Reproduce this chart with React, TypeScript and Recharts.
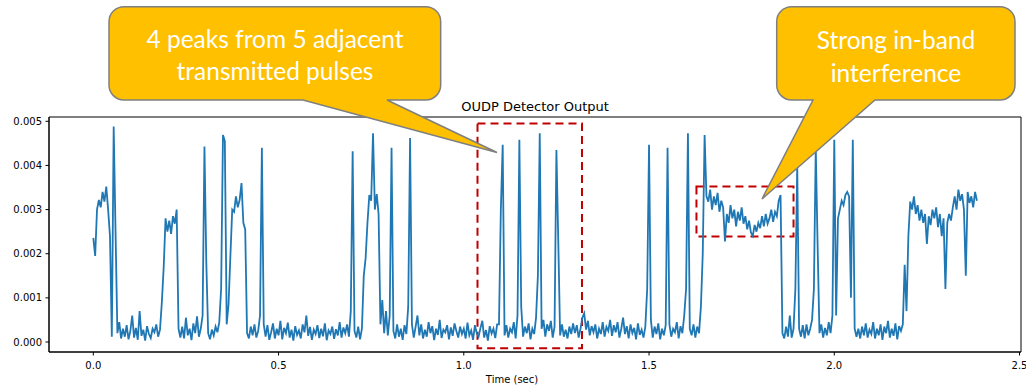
import React from "react";
import { LineChart, Line, XAxis, YAxis, ReferenceArea } from "recharts";

const SAMPLE_STEP = 0.005; // seconds between samples

// detector output in units of 1e-5, one array per half second
const SEG_00 = [
  236, 195, 300, 322, 305, 340, 318, 352, 300, 240, 12, 488, 250, 20, 45, 8, 30, 12, 38, 6,
  25, 60, 10, 32, 5, 70, 14, 28, 3, 36, 18, 9, 30, 22, 40, 12, 28, 90, 170, 280,
  250, 275, 245, 285, 268, 300, 30, 10, 35, 8, 55, 15, 30, 4, 42, 20, 58, 12, 30, 60,
  443, 180, 20, 6, 28, 15, 35, 22, 45, 120, 469, 455, 40, 85, 195, 300, 295, 330, 305, 322,
  360, 270, 255, 20, 8, 35, 15, 40, 10, 25, 60, 440, 40, 12, 38, 5, 22, 42, 8, 30,
];
const SEG_05 = [
  15, 48, 6, 32, 20, 44, 10, 28, 3, 36, 16, 26, 8, 40, 22, 60, 14, 34, 5, 28,
  18, 38, 9, 30, 13, 42, 4, 26, 18, 35, 7, 29, 15, 45, 10, 33, 20, 40, 12, 70,
  432, 25, 10, 35, 6, 30, 150, 190, 270, 333, 320, 473, 300, 335, 290, 40, 95, 20, 70, 15,
  60, 440, 25, 8, 40, 12, 30, 5, 38, 18, 80, 462, 40, 10, 35, 60, 15, 40, 8, 28,
  12, 45, 20, 36, 4, 30, 16, 50, 9, 28, 22, 38, 6, 33, 14, 42, 25, 10, 35, 18,
];
const SEG_10 = [
  30, 8, 44, 15, 26, 5, 38, 20, 12, 32, 48, 10, 27, 3, 36, 19, 30, 9, 40, 40,
  300, 447, 15, 38, 10, 30, 22, 45, 8, 60, 458, 80, 12, 35, 20, 42, 6, 30, 18, 55,
  150, 473, 30, 50, 12, 40, 25, 48, 10, 35, 435, 230, 15, 40, 12, 28, 8, 35, 18, 42,
  20, 38, 10, 30, 55, 65, 28, 48, 15, 36, 22, 40, 8, 30, 18, 45, 12, 34, 25, 50,
  14, 38, 22, 45, 10, 30, 55, 18, 36, 8, 40, 20, 32, 6, 42, 16, 28, 10, 35, 120,
];
const SEG_15 = [
  447, 50, 10, 35, 18, 42, 6, 30, 15, 38, 440, 40, 12, 30, 22, 45, 8, 36, 20, 60,
  120, 473, 30, 15, 40, 10, 35, 20, 80, 200, 469, 330, 318, 345, 300, 330, 310, 338, 295, 320,
  305, 228, 290, 270, 310, 280, 300, 262, 295, 275, 305, 268, 285, 255, 275, 248, 240, 265, 250, 270,
  258, 285, 262, 290, 268, 280, 300, 272, 295, 285, 320, 333, 20, 8, 35, 12, 60, 10, 30, 120,
  400, 30, 12, 38, 8, 40, 15, 30, 50, 120, 440, 220, 20, 40, 10, 32, 15, 45, 20, 60,
];
const SEG_20 = [
  458, 60, 280, 300, 320, 310, 333, 340, 330, 100, 458, 30, 12, 30, 8, 35, 15, 42, 10, 28,
  18, 45, 8, 30, 15, 40, 5, 35, 20, 48, 10, 30, 14, 42, 6, 36, 25, 40, 175, 70,
  240, 318, 300, 330, 290, 310, 275, 300, 270, 290, 222, 285, 265, 300, 280, 305, 260, 290, 240, 280,
  120, 270, 290, 275, 305, 330, 300, 345, 320, 335, 300, 150, 340, 315, 330, 305, 340, 320,
];

const X_TICKS = [0, 0.5, 1, 1.5, 2, 2.5];
const Y_TICKS = [0, 100, 200, 300, 400, 500];
const X_DOMAIN = [-0.1196, 2.504];
const Y_DOMAIN = [-22.66, 509.7];

const TITLE = "OUDP Detector Output";
const X_LABEL = "Time (sec)";
const PULSE_TEXT = ["4 peaks from 5 adjacent", "transmitted pulses"];
const INTERF_TEXT = ["Strong in-band", "interference"];

// highlighted regions: [t0, t1, v0, v1]
const PULSE_BOX = [1.037, 1.319, -14, 495];
const INTERF_BOX = [1.628, 1.89, 239, 352];

const signal = [...SEG_00, ...SEG_05, ...SEG_10, ...SEG_15, ...SEG_20];
const data = signal.map((v, i) => ({ t: i * SAMPLE_STEP, v }));

const AXIS_FONT = "'DejaVu Sans', sans-serif";
const CALLOUT_FONT = "Lato, 'Open Sans', sans-serif";

// rounded box with a wedge pointer leaving the bottom edge
function calloutPath(
  x0: number, y0: number, x1: number, y1: number, r: number,
  b0: number, b1: number, tx: number, ty: number
) {
  return [
    `M ${x0 + r} ${y0}`, `H ${x1 - r}`, `A ${r} ${r} 0 0 1 ${x1} ${y0 + r}`,
    `V ${y1 - r}`, `A ${r} ${r} 0 0 1 ${x1 - r} ${y1}`,
    `H ${b1}`, `L ${tx} ${ty}`, `L ${b0} ${y1}`,
    `H ${x0 + r}`, `A ${r} ${r} 0 0 1 ${x0} ${y1 - r}`,
    `V ${y0 + r}`, `A ${r} ${r} 0 0 1 ${x0 + r} ${y0}`, "Z",
  ].join(" ");
}

export default function App() {
  const tickStyle = { fontSize: 10, fill: "#000", fontFamily: AXIS_FONT };
  const boxStyle = { fill: "none", fillOpacity: 0, stroke: "#C00000", strokeWidth: 2, strokeDasharray: "8 5" };

  return (
    <div style={{ position: "absolute", left: 0, top: 0, width: 1026, height: 387, background: "#fff" }}>
      <LineChart width={1026} height={387} data={data} margin={{ top: 117, right: 5, bottom: 0, left: 0 }}>
        <XAxis
          dataKey="t"
          type="number"
          domain={X_DOMAIN}
          ticks={X_TICKS}
          allowDataOverflow
          tickFormatter={(v: number) => v.toFixed(1)}
          tick={tickStyle}
          tickSize={3.5}
          tickMargin={6}
          height={35}
          stroke="#000"
        />
        <YAxis
          type="number"
          domain={Y_DOMAIN}
          ticks={Y_TICKS}
          allowDataOverflow
          tickFormatter={(v: number) => (v / 100000).toFixed(3)}
          tick={tickStyle}
          tickSize={3.5}
          tickMargin={3.5}
          width={49}
          stroke="#000"
        />
        <ReferenceArea
          x1={X_DOMAIN[0]} x2={X_DOMAIN[1]} y1={Y_DOMAIN[0]} y2={Y_DOMAIN[1]}
          fill="none" fillOpacity={0} stroke="#000" strokeWidth={1} ifOverflow="visible"
        />
        <Line
          type="linear"
          dataKey="v"
          stroke="#1f77b4"
          strokeWidth={1.8}
          dot={false}
          isAnimationActive={false}
        />
        <ReferenceArea x1={PULSE_BOX[0]} x2={PULSE_BOX[1]} y1={PULSE_BOX[2]} y2={PULSE_BOX[3]} ifOverflow="visible" {...boxStyle} />
        <ReferenceArea x1={INTERF_BOX[0]} x2={INTERF_BOX[1]} y1={INTERF_BOX[2]} y2={INTERF_BOX[3]} ifOverflow="visible" {...boxStyle} />
      </LineChart>

      {/* title, axis label and the two speech-bubble callouts sit on top */}
      <svg width={1026} height={387} style={{ position: "absolute", left: 0, top: 0, pointerEvents: "none" }}>
        <text x={535} y={110.5} textAnchor="middle" fontFamily={AXIS_FONT} fontSize={13} fill="#000">{TITLE}</text>
        <text x={512} y={382.5} textAnchor="middle" fontFamily={AXIS_FONT} fontSize={10} fill="#000">{X_LABEL}</text>

        <path d={calloutPath(109, 6.7, 440.7, 100, 15, 303, 387, 497, 152.5)} fill="#FFC000" stroke="#7F7F7F" strokeWidth={1.5} />
        {PULSE_TEXT.map((s, i) => (
          <text key={s} x={275} y={48 + i * 32} textAnchor="middle" fontFamily={CALLOUT_FONT} fontSize={24.5} fill="#fff">{s}</text>
        ))}

        <path d={calloutPath(776.7, 6.7, 1015, 100, 15, 813, 875, 762, 199)} fill="#FFC000" stroke="#7F7F7F" strokeWidth={1.5} />
        {INTERF_TEXT.map((s, i) => (
          <text key={s} x={896} y={48.5 + i * 33} textAnchor="middle" fontFamily={CALLOUT_FONT} fontSize={24.5} fill="#fff">{s}</text>
        ))}
      </svg>
    </div>
  );
}
